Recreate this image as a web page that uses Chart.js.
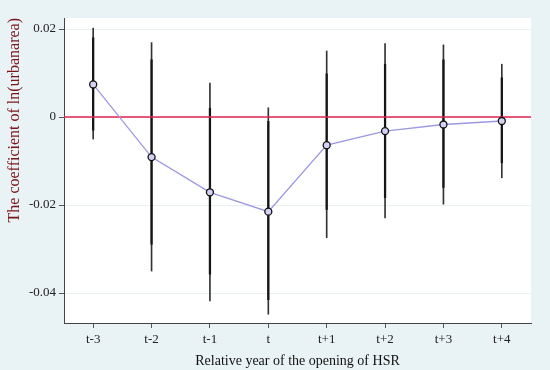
<!DOCTYPE html>
<html>
<head>
<meta charset="utf-8">
<script src="https://cdn.jsdelivr.net/npm/chart.js@4"></script>
<style>
  html, body { margin: 0; padding: 0; background: #e9f2f4; }
  #wrap { width: 550px; height: 370px; }
</style>
</head>
<body>
<div id="wrap"><canvas id="chart"></canvas></div>
<script>
// Data
const periods = ['t-3', 't-2', 't-1', 't', 't+1', 't+2', 't+3', 't+4'];
const coef    = [0.0074, -0.0091, -0.0171, -0.0215, -0.0064, -0.0032, -0.0017, -0.0009];
const ciLow   = [-0.0050, -0.0350, -0.0418, -0.0448, -0.0274, -0.0229, -0.0198, -0.0138];
const ciHigh  = [0.0202, 0.0169, 0.0077, 0.0021, 0.0150, 0.0167, 0.0164, 0.0120];
const ci90Low  = [-0.0030, -0.0289, -0.0357, -0.0415, -0.0210, -0.0183, -0.0160, -0.0104];
const ci90High = [0.0180, 0.0130, 0.0020, -0.0010, 0.0098, 0.0120, 0.0130, 0.0089];
const yTicks = [-0.04, -0.02, 0, 0.02];

const serif = "'Liberation Serif', 'DejaVu Serif', serif";

// Background + white plot area
const bgPlugin = {
  id: 'bg',
  beforeDraw(chart) {
    const { ctx, chartArea: a } = chart;
    ctx.save();
    ctx.fillStyle = '#e9f2f4';
    ctx.fillRect(0, 0, chart.width, chart.height);
    ctx.fillStyle = '#ffffff';
    ctx.fillRect(a.left, a.top, a.right - a.left, a.bottom - a.top);
    ctx.restore();
  }
};

new Chart(document.getElementById('chart'), {
  type: 'bar',
  data: {
    datasets: [
      {
        type: 'line',
        label: 'coef',
        data: periods.map((p, i) => ({ x: i, y: coef[i] })),
        borderColor: '#9c98e4',
        borderWidth: 1.3,
        pointRadius: 3.5,
        pointBorderWidth: 1.3,
        pointBorderColor: '#111',
        pointBackgroundColor: '#d4d2f4',
        order: 0
      },
      {
        type: 'line',
        label: 'zero',
        data: [{ x: -0.5, y: 0 }, { x: periods.length - 0.5, y: 0 }],
        borderColor: '#e8204e',
        borderWidth: 1.5,
        pointRadius: 0,
        order: 1
      },
      {
        label: 'ci90',
        data: periods.map((p, i) => ({ x: i, y: [ci90Low[i], ci90High[i]] })),
        backgroundColor: '#151515',
        barThickness: 1.6,
        grouped: false,
        order: 2
      },
      {
        label: 'ci95',
        data: periods.map((p, i) => ({ x: i, y: [ciLow[i], ciHigh[i]] })),
        backgroundColor: '#333333',
        barThickness: 1,
        grouped: false,
        order: 3
      }
    ]
  },
  options: {
    responsive: true,
    maintainAspectRatio: false,
    animation: false,
    layout: { padding: { top: 18, right: 19, left: 0, bottom: 0 } },
    plugins: { legend: { display: false }, tooltip: { enabled: false } },
    scales: {
      x: {
        type: 'linear',
        offset: false,
        min: -0.5,
        max: periods.length - 0.5,
        afterBuildTicks: s => { s.ticks = periods.map((p, i) => ({ value: i })); },
        afterFit: s => { s.height = 47; },
        ticks: {
          callback: v => periods[v],
          color: '#222',
          font: { family: serif, size: 13 },
          padding: 4,
          maxRotation: 0,
          autoSkip: false
        },
        grid: { display: true, offset: false, drawOnChartArea: false, tickLength: 5, tickColor: '#555' },
        border: { color: '#444', width: 1 },
        title: {
          display: true,
          text: 'Relative year of the opening of HSR',
          color: '#111',
          font: { family: serif, size: 14 },
          padding: { top: 0, bottom: 0 }
        }
      },
      y: {
        min: -0.0468,
        max: 0.0225,
        afterBuildTicks: s => { s.ticks = yTicks.map(v => ({ value: v })); },
        afterFit: s => { s.width = 64; },
        ticks: {
          callback: v => String(Math.round(v * 100) / 100),
          color: '#222',
          font: { family: serif, size: 13 },
          padding: 3
        },
        grid: { color: '#e8f0f1', lineWidth: 1, tickLength: 5, tickColor: '#555' },
        border: { color: '#444', width: 1 },
        title: {
          display: true,
          text: 'The coefficient of ln(urbanarea)',
          color: '#7a1418',
          align: 'end',
          font: { family: serif, size: 16 },
          padding: { top: 5, bottom: 0 }
        }
      }
    }
  },
  plugins: [bgPlugin]
});
</script>
</body>
</html>
